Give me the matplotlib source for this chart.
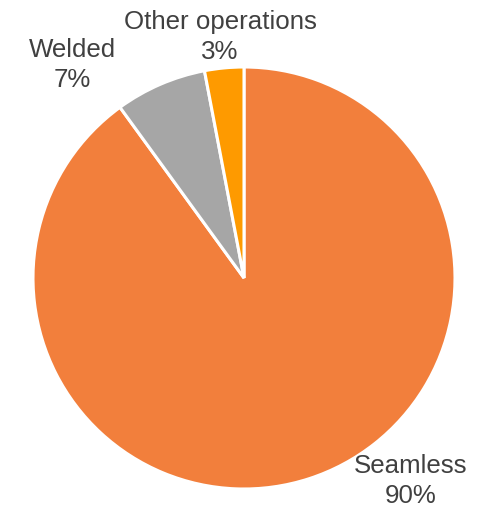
import matplotlib
matplotlib.use("Agg")
import matplotlib.pyplot as plt

plt.rcParams["font.family"] = ["Liberation Sans", "DejaVu Sans"]

labels = ["Seamless", "Welded", "Other operations"]
shares = [90, 7, 3]
colors = ["#F27F3C", "#A6A6A6", "#FE9A00"]

# label centres in pixel units of the 486x507 canvas (y measured upward)
label_pos = [(411, 26), (72, 442), (220, 470)]

W, H = 486, 507
fig = plt.figure(figsize=(W / 100, H / 100), dpi=100)
ax = fig.add_axes([0, 0, 1, 1])

ax.pie(shares, colors=colors, startangle=90, counterclock=False,
       center=(244, 229), radius=211, frame=True,
       wedgeprops=dict(edgecolor="white", linewidth=2.2))
ax.set_xlim(0, W)
ax.set_ylim(0, H)
ax.set_aspect("equal")
ax.axis("off")

for lab, val, (x, y) in zip(labels, shares, label_pos):
    ax.text(x, y, f"{lab}\n{val}%", ha="center", va="center",
            fontsize=18.6, color="#404040", linespacing=1.32)

fig.savefig("out.png", dpi=100)
